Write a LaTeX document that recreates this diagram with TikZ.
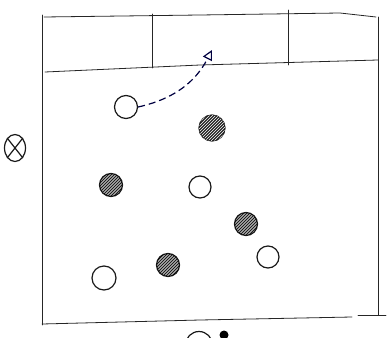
\documentclass[tikz,border=0pt]{standalone}
\usepackage{tikz}
\usetikzlibrary{arrows.meta,patterns,shapes.geometric}
\tikzset{
  wall/.style={black!85, thick, line cap=round},
  hole/.style={draw=black!90, very thick, circle, minimum size=23pt, inner sep=0pt},
  filled/.style={hole, fill=black!35},
  probe/.style={draw=black!90, very thick, ellipse, minimum width=21pt, minimum height=27pt, inner sep=0pt},
  arr/.style={-{Triangle[open,length=10pt,width=10pt]}, very thick, dash pattern=on 7pt off 4pt, black!75!blue},
}
\newcommand{\hatchdisc}[1]{%
  \node[hole, draw=none, pattern=north east lines, pattern color=black] at (#1) {};}

\begin{document}
\begin{tikzpicture}[x=1pt,y=-1pt]
  \useasboundingbox (0,0) rectangle (390,337);
  \clip (0,0) rectangle (390,337);
  % outer frame
  \draw[wall] (42,15) -- (42,325);
  \draw[wall] (44,17) -- (200,15) -- (340,13) -- (376,17);
  \draw[wall] (378,17) -- (378,315);
  \draw[wall] (42,324) -- (200,320) -- (352,317);
  \draw[wall] (358,315) -- (386,315);
  % top strip
  \draw[wall] (45,72) -- (200,65) -- (378,60);
  \draw[wall] (152,14) -- (152,68);
  \draw[wall] (288,10) -- (288,65);
  % discs
  \node[hole] (o1) at (126,107) {};
  \node[hole, minimum size=22pt] (o2) at (200,187) {};
  \node[hole, minimum size=22pt] (o3) at (268,257) {};
  \node[hole, minimum size=24pt] (o4) at (104,278) {};
  \node[hole, minimum size=26pt, fill=black!85] (f1) at (212,128) {};
  \node[hole, minimum size=26pt, draw=none, pattern=north east lines, pattern color=white] at (f1) {};
  \node[filled] (f2) at (111,185) {};
  \node[filled] (f3) at (246,224) {};
  \node[filled] (f4) at (168,265) {};
  \hatchdisc{f2}
  \hatchdisc{f3}
  \hatchdisc{f4}
  % left marker
  \node[probe] (p) at (15,148) {};
  \draw[very thick, black!90] (p.north east) -- (p.south west);
  \draw[very thick, black!90] (p.north west) -- (p.south east);
  % bottom, cut off
  \node[hole, minimum size=27pt] (b1) at (199,345) {};
  \node[circle, fill=black, minimum size=9pt, inner sep=0pt] (b2) at (224,335) {};
  % move
  \coordinate (t) at (212,50);
  \draw[arr] (o1.east) to[bend right=25] (t);
\end{tikzpicture}
\end{document}
